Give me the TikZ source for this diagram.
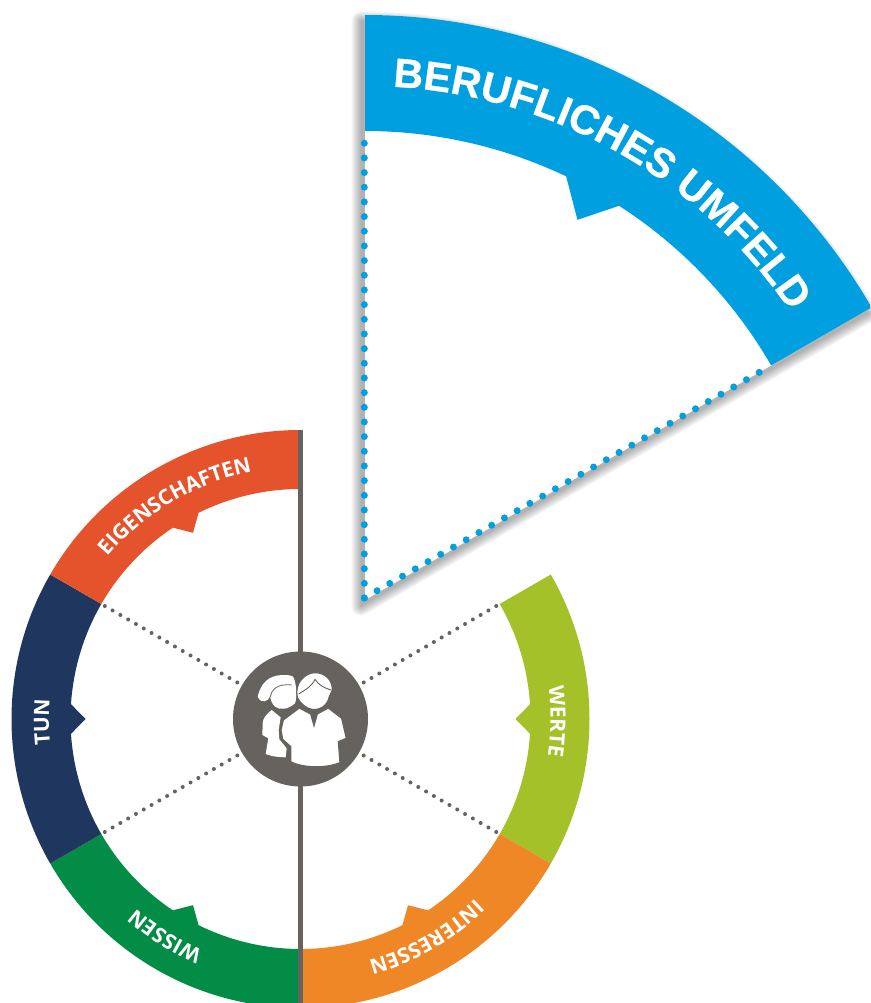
\documentclass[tikz,border=0pt]{standalone}
\usepackage{fontspec}
\usetikzlibrary{decorations.text}
\newfontfamily\biglab[FakeBold=0.6]{Liberation Sans}
\newfontfamily\smalllab{Open Sans}
\definecolor{cblue}{HTML}{009FDF}
\definecolor{cred}{HTML}{E5532D}
\definecolor{cnavy}{HTML}{1F365E}
\definecolor{cgreen}{HTML}{028C45}
\definecolor{corange}{HTML}{F08727}
\definecolor{clime}{HTML}{A4C12A}
\definecolor{cgray}{HTML}{66625D}
\tikzset{
  ringlabel/.style={decorate,decoration={text along path,text align=center,text={|\smalllab\bfseries\fontsize{21}{22}\selectfont\color{white}|#1}}},
  biglabel/.style={decorate,decoration={text along path,text align=center,text={|\biglab\bfseries\fontsize{41}{43}\selectfont\color{white}|#1}}},
  hubnode/.style={circle,fill=cgray,minimum size=135pt,inner sep=0pt},
  hubline/.style={cgray,line width=4pt,line cap=round,dash pattern=on 0pt off 9pt,shorten >=5pt},
  blueline/.style={cblue,line width=7pt,line cap=round,dash pattern=on 0pt off 14.67pt}
}
\newcommand{\bluesector}{(90:585) arc[start angle=90,end angle=30,radius=585] -- (0,0) -- cycle}
\newcommand{\ringseg}[2]{%
  \pgfmathsetmacro{\aa}{#2+30}\pgfmathsetmacro{\ab}{#2-30}%
  \pgfmathsetmacro{\na}{#2+3.7}\pgfmathsetmacro{\nb}{#2-3.7}%
  \fill[#1] (\aa:289) arc[start angle=\aa,end angle=\ab,radius=289] -- (\ab:230)
    arc[start angle=\ab,end angle=\nb,radius=230] -- (#2:215) -- (\na:230)
    arc[start angle=\na,end angle=\aa,radius=230] -- cycle;}
\begin{document}
\begin{tikzpicture}[x=1pt,y=1pt]
\useasboundingbox (0,0) rectangle (870,1003);
\clip (0,0) rectangle (870,1003);
% upper sector
\begin{scope}[shift={(365,403)}]
  \foreach \w in {1,3,...,19}{
    \begin{scope}[shift={(-4,-6)},transparency group,opacity=.035]
      \filldraw[black,line width=\w pt,line join=round] \bluesector;
    \end{scope}}
  \fill[white] \bluesector;
  \fill[cblue] (90:585) arc[start angle=90,end angle=30,radius=585] -- (30:469)
    arc[start angle=30,end angle=57.2,radius=469] -- (60.8:435.5) -- (64.6:469)
    arc[start angle=64.6,end angle=90,radius=469] -- cycle;
  \coordinate (apex) at (-0.7,2);
  \coordinate (bl1) at (-0.7,458);
  \coordinate (bl2) at (30:458);
  \draw[blueline] (apex) -- (bl1);
  \draw[blueline] (apex) -- (bl2);
  \path[biglabel={BERUFLICHES UMFELD}] (90.5:514) arc[start angle=90.5,end angle=30.5,radius=514];
\end{scope}
% lower ring
\begin{scope}[shift={(300.5,284)}]
  \ringseg{clime}{0}
  \ringseg{corange}{-60}
  \ringseg{cgreen}{-120}
  \ringseg{cnavy}{180}
  \ringseg{cred}{120}
  \fill[cgray] (-2.2,-300) rectangle (2.5,289);
  \node[hubnode] (hub) at (0,0) {};
  \coordinate (d1) at (30:226);
  \coordinate (d2) at (-30:226);
  \coordinate (d3) at (150:226);
  \coordinate (d4) at (210:226);
  \foreach \d in {d1,d2,d3,d4} \draw[hubline] (\d) -- (hub);
  \path[ringlabel={EIGENSCHAFTEN}] (150.5:252) arc[start angle=150.5,end angle=90.5,radius=252];
  \path[ringlabel={WERTE}] (29.5:250) arc[start angle=29.5,end angle=-30.5,radius=250];
  \path[ringlabel={INTERESSEN}] (-30:251) arc[start angle=-30,end angle=-90,radius=251];
  \path[ringlabel={WISSEN}] (-92:251) arc[start angle=-92,end angle=-152,radius=251];
  \path[ringlabel={TUN}] (210.6:251.5) arc[start angle=210.6,end angle=150.6,radius=251.5];
\end{scope}
% icon, drawn in 3x crop coordinates
\begin{scope}[shift={(220,363)},x=0.3333pt,y=-0.3333pt]
  % woman
  \fill[white] (113,170) .. controls (120,140) and (135,115) .. (170,107) .. controls (195,103) and (222,105) .. (222,115)
    .. controls (230,140) and (232,170) .. (225,190) .. controls (205,208) and (180,212) .. (165,200)
    .. controls (155,190) and (152,180) .. (150,170) .. controls (145,182) and (125,195) .. (113,170) -- cycle;
  \draw[cgray,line width=.8pt] (150,172) .. controls (155,150) and (170,130) .. (215,135);
  \fill[white] (155,210) .. controls (140,222) and (128,235) .. (128,250) -- (127,285) -- (145,295) -- (137,342)
    .. controls (155,350) and (180,352) .. (197,352) -- (200,325) -- (178,298) -- (176,270) -- (182,232) -- cycle;
  % man
  \filldraw[fill=white,draw=cgray,line width=1.2pt] (190,240) -- (238,204) -- (272,222) -- (282,257) -- (292,222) -- (325,204)
    -- (365,235) -- (379,295) -- (355,305) -- (360,368) .. controls (320,385) and (250,385) .. (212,365)
    -- (212,320) -- (188,298) -- (183,270) -- cycle;
  \filldraw[fill=white,draw=cgray,line width=1.2pt] (232,172) .. controls (222,130) and (255,98) .. (285,98)
    .. controls (315,98) and (338,120) .. (337,150) -- (328,170) .. controls (322,200) and (295,212) .. (275,208)
    .. controls (258,205) and (240,190) .. (232,172) -- cycle;
  \draw[cgray,line width=.9pt] (236,162) .. controls (255,150) and (275,140) .. (285,118) .. controls (295,135) and (315,145) .. (333,150);
\end{scope}
\end{tikzpicture}
\end{document}
